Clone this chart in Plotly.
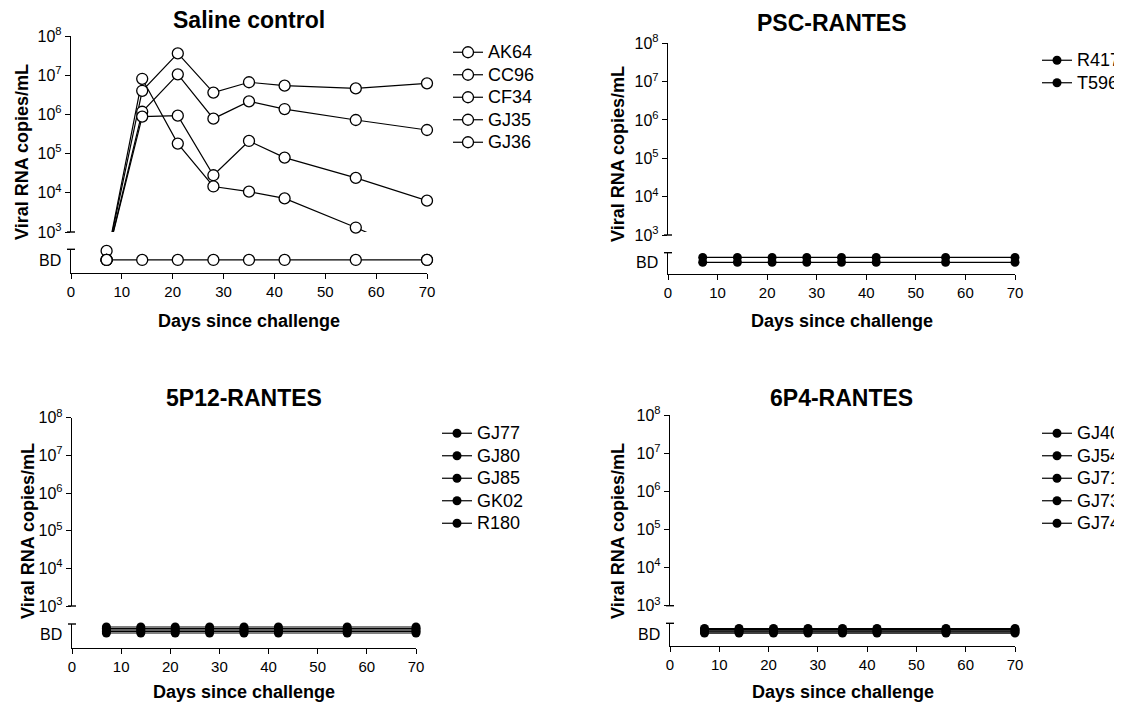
import plotly.graph_objects as go

# page body has an 8px margin: the figure is drawn 8px in from the top-left corner
OFF = 8
W, H = 1122 - OFF, 703 - OFF
FONT = "Liberation Sans, Arial, sans-serif"

days = [7, 14, 21, 28, 35, 42, 56, 70]
x_ticks = [0, 10, 20, 30, 40, 50, 60, 70]
y_ticks = [1e3, 1e4, 1e5, 1e6, 1e7, 1e8]
y_ticktext = ["10<sup>3</sup>", "10<sup>4</sup>", "10<sup>5</sup>",
              "10<sup>6</sup>", "10<sup>7</sup>", "10<sup>8</sup>"]
BD = None          # below detection
BD_LINE = 200      # level used only to draw the clipped line into the BD break

# ---- Saline control (viral RNA copies/mL) ----
saline_names = ["AK64", "CC96", "CF34", "GJ35", "GJ36"]
AK64 = [BD, 4.0e6, 3.6e7, 3.6e6, 6.6e6, 5.4e6, 4.6e6, 6.2e6]
CC96 = [BD, 1.17e6, 1.05e7, 7.8e5, 2.15e6, 1.37e6, 7.2e5, 4.0e5]
CF34 = [BD, 8.8e5, 9.3e5, 2.8e4, 2.1e5, 7.9e4, 2.4e4, 6.3e3]
GJ35 = [BD, 8.1e6, 1.8e5, 1.45e4, 1.07e4, 7.2e3, 1.3e3, BD]
GJ36 = [BD, BD, BD, BD, BD, BD, BD, BD]
saline_bd_row = [0.93, 0.55, 0.55, 0.55, 0.55]

# ---- PSC-RANTES ----
psc_names = ["R417", "T596"]
R417 = [BD, BD, BD, BD, BD, BD, BD, BD]
T596 = [BD, BD, BD, BD, BD, BD, BD, BD]
psc_bd_row = [0.78, 0.55]

# ---- 5P12-RANTES ----
p512_names = ["GJ77", "GJ80", "GJ85", "GK02", "R180"]
GJ77 = [BD, BD, BD, BD, BD, BD, BD, BD]
GJ80 = [BD, BD, BD, BD, BD, BD, BD, BD]
GJ85 = [BD, BD, BD, BD, BD, BD, BD, BD]
GK02 = [BD, BD, BD, BD, BD, BD, BD, BD]
R180 = [BD, BD, BD, BD, BD, BD, BD, BD]
p512_bd_row = [0.875, 0.81, 0.75, 0.69, 0.625]

# ---- 6P4-RANTES ----
p64_names = ["GJ40", "GJ54", "GJ71", "GJ73", "GJ74"]
GJ40 = [BD, BD, BD, BD, BD, BD, BD, BD]
GJ54 = [BD, BD, BD, BD, BD, BD, BD, BD]
GJ71 = [BD, BD, BD, BD, BD, BD, BD, BD]
GJ73 = [BD, BD, BD, BD, BD, BD, BD, BD]
GJ74 = [BD, BD, BD, BD, BD, BD, BD, BD]
p64_bd_row = [0.77, 0.72, 0.67, 0.62, 0.57]

# layout positions in screen pixels
panels = [
    dict(title="Saline control", names=saline_names, values=[AK64, CC96, CF34, GJ35, GJ36],
         rows=saline_bd_row, open=True,
         xd=(71, 427), up=(36, 232), lo=(249.3, 273), title_xy=(249, 20),
         ytitle_xy=(22, 152), xtitle_y=321, bd_y=260, legend_xy=(448, 36)),
    dict(title="PSC-RANTES", names=psc_names, values=[R417, T596],
         rows=psc_bd_row, open=False,
         xd=(668, 1015), up=(43.3, 235), lo=(252.7, 274), title_xy=(832, 23),
         ytitle_xy=(618, 154), xtitle_y=321, bd_y=262, legend_xy=(1037, 44)),
    dict(title="5P12-RANTES", names=p512_names, values=[GJ77, GJ80, GJ85, GK02, R180],
         rows=p512_bd_row, open=False,
         xd=(72, 416), up=(417.7, 606), lo=(624, 648), title_xy=(244, 398),
         ytitle_xy=(28, 531), xtitle_y=692, bd_y=634, legend_xy=(437, 417)),
    dict(title="6P4-RANTES", names=p64_names, values=[GJ40, GJ54, GJ71, GJ73, GJ74],
         rows=p64_bd_row, open=False,
         xd=(670, 1015), up=(415, 605.7), lo=(623.3, 646), title_xy=(841, 398),
         ytitle_xy=(618, 531), xtitle_y=692, bd_y=634, legend_xy=(1037, 417)),
]


def px(p):
    return (p - OFF) / W


def py(p):
    return 1 - (p - OFF) / H


fig = go.Figure()
layout = dict(
    width=W, height=H, margin=dict(l=0, r=0, t=0, b=0, autoexpand=False),
    paper_bgcolor="white", plot_bgcolor="white",
    font=dict(family=FONT, color="black"),
    showlegend=True, annotations=[], shapes=[],
)

AX = dict(showgrid=False, zeroline=False, showline=True, linecolor="black",
          linewidth=1.4, ticks="outside", tickcolor="black", tickwidth=1.4, ticklen=5,
          tickfont=dict(family=FONT, size=15, color="black"), fixedrange=True)

for k, p in enumerate(panels):
    xn = k + 1
    yu = 2 * k + 1
    yl = 2 * k + 2
    xref = "x" if xn == 1 else f"x{xn}"
    yuref = "y" if yu == 1 else f"y{yu}"
    ylref = f"y{yl}"
    lname = "legend" if k == 0 else f"legend{k + 1}"

    layout["xaxis" if xn == 1 else f"xaxis{xn}"] = dict(
        AX, domain=[px(p["xd"][0]), px(p["xd"][1])], range=[0, 70],
        anchor=ylref, tickmode="array", tickvals=x_ticks)
    layout["yaxis" if yu == 1 else f"yaxis{yu}"] = dict(
        AX, type="log", range=[3, 8], domain=[py(p["up"][1]), py(p["up"][0])],
        anchor=xref, tickmode="array", tickvals=y_ticks, ticktext=y_ticktext,
        tickfont=dict(family=FONT, size=16, color="black"))
    layout[f"yaxis{yl}"] = dict(
        AX, range=[0, 1], domain=[py(p["lo"][1]), py(p["lo"][0])],
        anchor=xref, ticks="", showticklabels=False)

    if p["open"]:
        mk = dict(symbol="circle", size=11, color="white", line=dict(color="black", width=1.3))
    else:
        mk = dict(symbol="circle", size=9, color="black", line=dict(color="black", width=0))
    ln = dict(color="black", width=1.2)

    # upper segment: lines (BD drawn below range so it is clipped at 10^3)
    for name, vals in zip(p["names"], p["values"]):
        fig.add_trace(go.Scatter(
            x=days, y=[BD_LINE if v is None else v for v in vals], mode="lines",
            line=ln, xaxis=xref, yaxis=yuref, showlegend=False, hoverinfo="skip"))
    # upper segment: markers
    for name, vals in zip(p["names"], p["values"]):
        fig.add_trace(go.Scatter(
            x=days, y=vals, mode="markers", marker=mk, cliponaxis=False,
            xaxis=xref, yaxis=yuref, showlegend=False, name=name))
    # lower (BD) segment, also provides the legend entry
    for name, vals, row in zip(p["names"], p["values"], p["rows"]):
        fig.add_trace(go.Scatter(
            x=days, y=[row if v is None else None for v in vals], mode="lines+markers",
            line=ln, marker=mk, cliponaxis=False, connectgaps=False,
            xaxis=xref, yaxis=ylref, legend=lname,
            name=f"<span style='font-size:18px'>{name}</span>"))

    layout[lname] = dict(
        x=px(p["legend_xy"][0]), y=py(p["legend_xy"][1]), xanchor="left", yanchor="top",
        bgcolor="rgba(0,0,0,0)", borderwidth=0, itemwidth=30, tracegroupgap=0,
        font=dict(family=FONT, size=15, color="black"), itemclick=False, itemdoubleclick=False)

    # titles
    layout["annotations"] += [
        dict(text=f"<b>{p['title']}</b>", x=px(p["title_xy"][0]), y=py(p["title_xy"][1]),
             xref="paper", yref="paper", showarrow=False, xanchor="center", yanchor="middle",
             font=dict(family=FONT, size=23, color="black")),
        dict(text="<b>Viral RNA copies/mL</b>", x=px(p["ytitle_xy"][0]), y=py(p["ytitle_xy"][1]),
             xref="paper", yref="paper", showarrow=False, textangle=-90,
             xanchor="center", yanchor="middle", font=dict(family=FONT, size=18, color="black")),
        dict(text="<b>Days since challenge</b>", x=px((p["xd"][0] + p["xd"][1]) / 2),
             y=py(p["xtitle_y"]), xref="paper", yref="paper", showarrow=False,
             xanchor="center", yanchor="middle", font=dict(family=FONT, size=18, color="black")),
        dict(text="BD", x=px(p["xd"][0] - 8), y=py(p["bd_y"]), xref="paper", yref="paper",
             showarrow=False, xanchor="right", yanchor="middle",
             font=dict(family=FONT, size=16, color="black")),
    ]
    # axis-break caps
    x0 = p["xd"][0]
    for yy in (p["lo"][0], p["up"][1]):
        layout["shapes"].append(dict(
            type="line", xref="paper", yref="paper", x0=px(x0 - 4), x1=px(x0 + 4),
            y0=py(yy), y1=py(yy), line=dict(color="black", width=1.4)))

fig.update_layout(**layout)
fig.write_html("out.html")
